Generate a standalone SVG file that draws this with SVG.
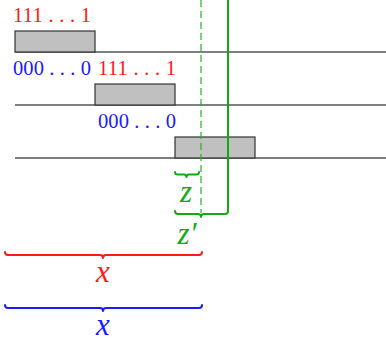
<svg xmlns="http://www.w3.org/2000/svg" width="386" height="343" viewBox="0 0 386 343">
<style>
.row{stroke:#000;stroke-width:1.2;fill:none}
.box{fill:#c0c0c0;stroke:#333;stroke-width:1.2}
.bits{font-family:"Liberation Serif",serif;font-size:20.5px}
.red{fill:#ff1a1a}
.blue{fill:#1a1aff}
.lbl{font-family:"Liberation Serif",serif;font-style:italic;font-size:31px;text-anchor:middle}
.brace{fill:none;stroke-width:2;stroke-linecap:round;stroke-linejoin:round}
</style>
<rect width="386" height="343" fill="#fff"/>
<g id="rows">
<line class="row" x1="15" y1="52" x2="386" y2="52"/>
<line class="row" x1="15" y1="105" x2="386" y2="105"/>
<line class="row" x1="15" y1="158" x2="386" y2="158"/>
</g>
<g id="box1"><rect class="box" x="15" y="31" width="80" height="21"/></g>
<g id="box2"><rect class="box" x="95" y="84" width="80" height="21"/></g>
<g id="box3"><rect class="box" x="175" y="137" width="80" height="21"/></g>
<g id="labels-bits">
<text class="bits red" x="13" y="22" textLength="78" lengthAdjust="spacing">111 . . . 1</text>
<text class="bits blue" x="13" y="75" textLength="78" lengthAdjust="spacing">000 . . . 0</text>
<text class="bits red" x="98" y="75" textLength="78" lengthAdjust="spacing">111 . . . 1</text>
<text class="bits blue" x="98" y="128" textLength="78" lengthAdjust="spacing">000 . . . 0</text>
</g>
<g id="connectors">
<line x1="201" y1="0" x2="201" y2="213" stroke="#33a833" stroke-width="1.2" stroke-dasharray="7,4"/>
<polyline points="228,0 228,212" fill="none" stroke="#11aa11" stroke-width="2"/>
</g>
<g id="brace-z">
<path class="brace" stroke="#11aa11" d="M175,172 q0,2.5 2.5,2.5 H184 q2.5,0 2.5,2.5 q0,-2.5 2.5,-2.5 H196.5 q2.5,0 2.5,-2.5"/>
<text class="lbl" x="186" y="202" fill="#11aa11">z</text>
</g>
<g id="brace-zp">
<path class="brace" stroke="#11aa11" d="M175,211 q0,3 3,3 H198 q3,0 3,3 q0,-3 3,-3 H225 q3,0 3,-3"/>
<text class="lbl" x="187" y="244" fill="#11aa11">z′</text>
</g>
<g id="brace-x-red">
<path class="brace" stroke="#ff1a1a" d="M5,252 q0,3 3,3 H100 q3,0 3,3 q0,-3 3,-3 H199 q3,0 3,-3"/>
<text class="lbl" x="103" y="282" fill="#ff1a1a">x</text>
</g>
<g id="brace-x-blue">
<path class="brace" stroke="#1a1aff" d="M5,305 q0,3 3,3 H100 q3,0 3,3 q0,-3 3,-3 H199 q3,0 3,-3"/>
<text class="lbl" x="103" y="335" fill="#1a1aff">x</text>
</g>
</svg>
